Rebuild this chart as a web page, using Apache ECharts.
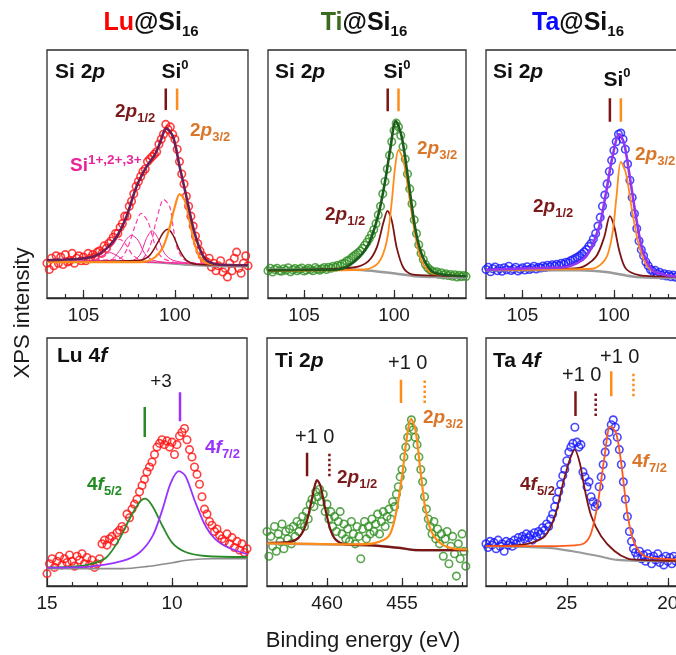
<!DOCTYPE html>
<html>
<head>
<meta charset="utf-8">
<script src="https://cdn.jsdelivr.net/npm/echarts@6/dist/echarts.min.js"></script>
<style>
html,body{margin:0;padding:0;background:#fff;}
#main{width:676px;height:655px;}
</style>
</head>
<body>
<div id="main"></div>
<script>
// ---------- data (binding energy in eV, intensity in arb. units 0-100 of panel height) ----------
// Si 2p, Lu@Si16 : measured points on a 0.125 eV grid from 107 eV
var luSiStart = 107, luSiStep = 0.125;
var luSiVals = [14,11.5,16,13,17,14,16.5,13.5,17.5,14.5,15,18,14,16,17,15,16.5,15,18,16,
  17.5,16.5,18.5,19,18,21,20,22,23,24.5,26,26,28.5,30,33,33,37,39,42,45,
  47,49,51,52,55,56,57,58,59,62,64,66,70,68,69,66,64,60,55,50,
  46,41,37,33,29,25,22,19,17,15,14.5,16,12.5,14,11,13,15,10.5,12,8.5,
  14,11,16,18.5,12,10,14,17,13];
var luSiEnv = [[107,15.2],[106,15.5],[105.03,15.9],[104.3,17.2],[103.75,19.9],[103.2,24.6],[102.66,32.7],[102.11,44.8],[101.56,52.9],[101.11,57.6],[100.83,62.3],[100.47,68.4],[100.1,65.0],[99.74,52.9],[99.37,40.8],[99.01,28.7],[98.64,19.9],[98.28,15.2],[97.73,13.6],[97,13.3],[96,13.2]];
var luSi32 = [[107,14.5],[104,14.5],[101.93,14.5],[101.2,15.9],[100.65,20.6],[100.28,28.7],[100.01,36.7],[99.74,41.9],[99.46,39.4],[99.19,30.7],[98.92,21.9],[98.64,16.6],[98.28,14.1],[97.5,13.4],[96,13.2]];
var luSi12 = [[107,14.5],[104,14.8],[101.93,15.2],[101.38,17.2],[100.92,22.6],[100.65,26.2],[100.38,27.7],[100.1,25.3],[99.74,19.2],[99.37,15.2],[98.82,13.6],[97.5,13.3],[96,13.2]];
var luSiBg = [[107,14.9],[102.84,14.7],[101.01,14.3],[99.19,13.3],[97.91,12.8],[96,12.7]];
var luSiOx1 = [[107,14.5],[104,14.6],[102.47,14.8],[101.93,17.2],[101.56,24.0],[101.25,27.1],[100.92,24.0],[100.56,17.9],[100.1,15.2],[99,14],[96,13.2]];
var luSiOx2 = [[107,14.5],[105,14.8],[103.57,15.2],[103.02,19.2],[102.66,23.6],[102.38,25.3],[102.02,23.3],[101.65,17.9],[101.2,15.2],[100,14.2],[96,13.2]];
var luSiOx3 = [[107,14.5],[105.5,14.8],[104.48,15.2],[103.93,17.2],[103.57,18.3],[103.2,17.2],[102.66,14.9],[101,14.3],[96,13.2]];
var luSiOxD1 = [[107,14.5],[104,14.8],[101.93,15.2],[101.38,20.6],[101.01,31.4],[100.61,39.7],[100.28,36.7],[100.1,28.7],[99.83,19.2],[99.37,14.9],[98,13.6],[96,13.2]];
var luSiOxD2 = [[107,14.5],[104.5,15.2],[103.02,15.9],[102.57,20.6],[102.2,28.7],[101.84,34.1],[101.47,30.7],[101.11,21.9],[100.74,16.6],[100.1,14.5],[98.5,13.6],[96,13.2]];
var luSiOxD3 = [[107,14.5],[105.5,14.8],[104.3,15.2],[103.75,17.9],[103.29,22.6],[103.02,23.6],[102.66,21.3],[102.29,17.2],[101.74,14.9],[100,14.2],[96,13.2]];
var luSiMarks = [[100.5,75.8,84.5],[99.88,75.8,84.5]];

// Si 2p, Ti@Si16
var tiSiStart = 107, tiSiStep = 0.125;
var tiSiVals = [11,12,10.5,11.5,12,11,10.8,11.8,11.2,12.2,10.6,11.4,11.9,11,11.6,12.1,10.9,11.3,12,11.5,11,12.3,11.6,11.2,
  11.8,12.3,11.5,12.4,12,12.8,12.4,13.2,13,13.8,14,14.9,15.2,16,16.8,17.5,18.2,19,20,21.3,22.5,24,25.6,27.5,30,33.5,
  37,42,47,52,57.5,63,67.5,70.5,69,65.5,61,56,50,44,38,31.5,26,21.5,18,15.5,13.5,12.2,11.4,10.8,10.3,10.6,9.6,10.2,
  9.3,9.8,9.1,9.5,8.8,9.4,8.5,9.2,8.6,9.1,8.7];
var tiSiEnv = [[107,11.1],[105,11.3],[103.08,11.5],[102.16,14.9],[101.42,21.6],[100.86,33.8],[100.49,47.3],[100.22,59.5],[99.9,71.4],[99.57,64.9],[99.2,47.3],[98.83,28.4],[98.46,17.6],[97.91,10.8],[97.35,9.5],[96,8.8]];
var tiSi32 = [[107,10.8],[104,11.1],[101.6,11.5],[100.86,14.2],[100.4,23.0],[100.12,39.2],[99.94,52.7],[99.75,59.7],[99.48,55.4],[99.2,43.2],[98.83,25.7],[98.46,14.9],[97.91,10.1],[97,9.2],[96,8.8]];
var tiSi12 = [[107,11.1],[104,11.6],[102.16,12.4],[101.42,14.9],[100.96,20.3],[100.59,30.4],[100.36,35.1],[100.12,31.1],[99.85,20.3],[99.48,12.2],[99.01,9.5],[97.5,9.0],[96,8.8]];
var tiSiBg = [[107,11.4],[102.16,11.4],[101.05,10.8],[99.94,9.9],[98.83,8.8],[97.35,8.4],[96,8.2]];
var tiSiMarks = [[100.35,75.3,84.5],[99.75,75.3,84.5]];

// Si 2p, Ta@Si16
var taSiStart = 107, taSiStep = 0.125;
var taSiVals = [11.5,12.4,10.6,11.8,12.5,11,11.9,10.8,12.2,11.4,12.8,11.1,11.7,12.4,10.9,11.6,12.2,11.3,12.6,11.5,12,12.8,11.7,12.4,
  12.1,12.9,12.3,13.2,12.6,13.4,12.9,13.6,13.1,14,13.6,14.4,14.2,15,15.4,15.9,16.4,17,17.8,18.6,19.5,20.8,22,23.8,26,29,
  32.5,37,41.5,46,51,55.5,59.5,63,66,66.5,64,60,54,47.5,40.5,34,28,23,19.5,17,14.5,13,11.5,10.8,11.2,9.8,10.4,9.2,
  9.8,8.9,9.5,8.6,9.3,8.4,9,8.2,8.8,8.3,8.6];
var taSiEnv = [[107,11.4],[104.5,12],[102.64,12.5],[101.54,16.6],[100.81,28.7],[100.44,42.1],[100.08,56.9],[99.71,66.1],[99.44,62.3],[99.16,50.2],[98.79,32.7],[98.43,19.2],[97.88,11.2],[97.15,9.2],[96.54,8.7],[96,8.6]];
var taSi32 = [[107,11.2],[104,11.5],[101.18,11.8],[100.44,15.9],[100.08,26.0],[99.86,40.8],[99.62,54.9],[99.34,50.2],[98.98,34.1],[98.61,20.6],[98.15,12.5],[97.51,9.8],[96.54,8.7],[96,8.6]];
var taSi12 = [[107,11.2],[104,11.6],[101.91,12.1],[100.99,16.6],[100.53,24.6],[100.22,33.0],[99.98,28.7],[99.71,19.2],[99.34,11.8],[98.61,9.2],[97.5,8.7],[96,8.5]];
var taSiBg = [[107,11.2],[101.91,11.2],[100.44,10.5],[98.98,8.7],[97.88,8.2],[96,8.1]];
var taSiMarks = [[100.22,71.1,80.5],[99.62,71.1,80.5]];

// Lu 4f
var luFStart = 15, luFStep = 0.1;
var luFVals = [5,9,11,7.5,10,12,8.5,11,9.5,12.5,10,8,12,10.5,13,9,11.5,8.5,10.5,7.5,
  9,11,17,18.5,16.5,19,20,18,21.5,22.5,24,23,29,27.5,31,33,35,38,40.5,43,
  46,48,50,53,56,57.5,59,57,58.5,56,58,53,57,60.5,62,63.5,59,55,52,48,
  45,41,36,31,29,26,24.5,22,23,20.5,19,18,21,17,19.5,15.5,18,14.5,17,13.5,15];
var luF52 = [[15,7.4],[13.97,7.8],[13.3,8.7],[12.64,11.4],[12.11,18.8],[11.71,26.8],[11.31,33.6],[11.07,35.2],[10.78,32.2],[10.38,24.2],[9.99,17.4],[9.46,13.7],[8.66,12.1],[7,11.7]];
var luF72 = [[15,7.4],[13.3,7.8],[11.98,10.1],[11.31,13.4],[10.78,20.1],[10.38,30.9],[10.05,41.6],[9.72,46.3],[9.46,44.3],[9.06,33.6],[8.66,24.2],[8.26,18.8],[7.73,15.4],[7,12.8]];
var luFBg = [[15,7.0],[11.98,7.0],[11.05,7.8],[9.99,9.4],[9.32,10.5],[8.4,11.0],[7,11.0]];
var luFMarks = [[11.09,60.1,72.2],[9.68,66.4,78.1]];

// Ti 2p
var tiPStart = 464, tiPStep = 0.125;
var tiPVals = [22,12,20,16,24,14,21,18,25,15,22,19,23,17,24,20,26,22,25,28,
  24,30,27,33,35,32,38,36,39,34,37,30,33,27,30,24,28,22,26,30,
  21,25,19,23,18,26,21,17,24,20,11,23,26,19,24,21,27,22,25,29,
  21,26,30,24,28,31,27,34,32,37,40,44,47,52,56,60,64,67,63,60,
  57,52,47,42,36,31,27,24,21,26,19,23,17,21,12,19,22,9,16,20,
  13,4,17,11,21,14,8];
var tiP12 = [[464,17.4],[462.56,17.7],[461.89,19.5],[461.44,24.2],[461.11,32.2],[460.82,40.3],[460.67,42.7],[460.44,40.3],[460.11,30.9],[459.78,22.8],[459.44,18.8],[458.78,16.8],[457,16.4],[455.22,15.4],[454.11,14.5],[450.67,14.5]];
var tiP32 = [[464,17.2],[461,17],[458.11,16.8],[456.78,17.4],[455.89,20.1],[455.44,28.2],[455,44.3],[454.67,60.4],[454.4,67.4],[454.11,63.1],[453.78,47.0],[453.44,30.9],[453,21.5],[452.33,16.8],[451.44,15.0],[450.67,14.8]];
var tiPBg = [[464,17.2],[460.33,16.8],[457,16.4],[455.22,15.4],[454.11,14.5],[453,14.4],[450.67,14.5]];
var tiPMarks = [[461.33,44.3,53.7],[459.84,44.3,53.7],[455.07,73.8,83.2],[453.49,73.8,83.2]];

// Ta 4f
var taFStart = 29, taFStep = 0.1;
var taFVals = [17,15.5,18,16.5,17.5,15,18.5,16,17,14,18,16.5,17.5,16,18.5,17,19.5,18,20,19,
  21,19.5,20.5,18.5,21.5,20,22,21,23.5,22.5,25,24,27,29,32,35,38,41,44.5,47,
  50.5,54,56,57.5,64,58,56,57,46,44,40,42,36,34,32,33,40,44,49,54,
  58,62,65,67,64,60,55,49,42,35,28,22,18,15,13.5,12,14,11,12.5,10,
  13,11.5,9,12,10.5,13,9.5,11,8.5,12,10,11.5,9,12,10,11,9.5,11,10,11.5,10];
var taF52 = [[29,16.1],[27.56,16.4],[26.74,17.4],[26.08,20.1],[25.59,28.2],[25.18,41.6],[24.85,51.0],[24.61,55.0],[24.36,49.7],[24.11,38.9],[23.79,28.2],[23.3,20.1],[22.64,14.1],[21.98,11.0],[21.33,10.5],[19.64,10.1],[19,10]];
var taF72 = [[29,16.1],[27,16.1],[25.92,16.1],[24.61,16.4],[24.11,17.4],[23.79,21.5],[23.46,33.6],[23.13,52.3],[22.85,64.4],[22.56,61.7],[22.31,49.7],[21.98,28.2],[21.66,17.4],[21.16,12.1],[20.3,11],[19.64,10.7],[19,10.6]];
var taFBg = [[29,16.1],[25.92,15.4],[24.77,14.1],[23.46,12.1],[22.48,10.5],[21.33,10.1],[19,9.9]];
var taFMarks = [[24.57,68.5,78.5],[23.57,68.5,78.5],[22.8,76.5,86.6],[21.7,76.5,86.6]];

// axis ticks and labels
var siTicks = [97,98,99,100,101,102,103,104,105,106], siLabels = [100,105];
var luFTicks = [8,9,10,11,12,13,14], luFLabels = [10,15];
var tiPTicks = [451,452,453,454,455,456,457,458,459,460,461,462,463], tiPLabels = [455,460];
var taFTicks = [20,21,22,23,24,25,26,27,28], taFLabels = [20,25];

// ---------- chart ----------
var F = '"Liberation Sans", Arial, Helvetica, sans-serif';
var DR = '#7d1414', OR = '#ff8c1a', GR = '#9a9a9a';

function pts(start, step, vals) {
  return vals.map(function (v, i) { return [Math.round((start - i * step) * 1000) / 1000, v]; });
}

var grids = [], xAxes = [], yAxes = [], series = [];

function addPanel(k, box, min, max, ticks, labels) {
  grids.push({left: box[0], top: box[1], width: box[2], height: box[3], show: true,
    borderColor: '#2b2b2b', borderWidth: 1.3, backgroundColor: 'transparent',
    containLabel: false, outerBoundsMode: 'none'});
  xAxes.push({gridIndex: k, type: 'value', position: 'bottom', min: min, max: max, inverse: true,
    axisLine: {show: true, onZero: false, lineStyle: {color: '#2b2b2b', width: 1.3}},
    axisTick: {show: true, inside: true, length: 4, customValues: ticks, lineStyle: {color: '#2b2b2b', width: 1.2}},
    axisLabel: {show: true, customValues: labels, margin: 8, fontSize: 19, fontFamily: F, color: '#1a1a1a'},
    splitLine: {show: false}});
  xAxes.push({gridIndex: k, type: 'value', position: 'bottom', min: min, max: max, inverse: true,
    axisLine: {show: false},
    axisTick: {show: true, inside: true, length: 8, customValues: labels, lineStyle: {color: '#2b2b2b', width: 1.2}},
    axisLabel: {show: false}, splitLine: {show: false}});
  yAxes.push({gridIndex: k, type: 'value', min: 0, max: 100, show: false});
}

function dots(k, data, color) {
  series.push({type: 'scatter', xAxisIndex: 2 * k, yAxisIndex: k, data: data, symbol: 'circle', symbolSize: 7.5,
    itemStyle: {color: 'rgba(0,0,0,0)', borderColor: color, borderWidth: 1.6}, z: 2, silent: true});
}
function curve(k, data, color, width, type) {
  series.push({type: 'line', xAxisIndex: 2 * k, yAxisIndex: k, data: data, smooth: 0.3,
    showSymbol: false, symbol: 'none', lineStyle: {color: color, width: width, type: type || 'solid'}, z: 3, silent: true});
}
function bars(k, marks, colors, types) {
  marks.forEach(function (m, i) {
    series.push({type: 'line', xAxisIndex: 2 * k, yAxisIndex: k, data: [[m[0], m[1]], [m[0], m[2]]],
      showSymbol: false, symbol: 'none', lineStyle: {color: colors[i], width: 2.5, type: types ? types[i] : 'solid'}, z: 4, silent: true});
  });
}

addPanel(0, [47, 50, 201, 248], 96, 107, siTicks, siLabels);
addPanel(1, [268, 50, 198, 248], 96, 107, siTicks, siLabels);
addPanel(2, [486, 50, 201, 248], 96, 107, siTicks, siLabels);
addPanel(3, [47, 338, 200, 248], 7, 15, luFTicks, luFLabels);
addPanel(4, [267, 338, 200, 248], 450.67, 464, tiPTicks, tiPLabels);
addPanel(5, [486, 338, 202, 248], 19, 29, taFTicks, taFLabels);

// Lu@Si16 Si 2p
dots(0, pts(luSiStart, luSiStep, luSiVals), '#ff1010');
curve(0, luSiBg, GR, 2);
curve(0, luSiOx1, '#f0239b', 1);
curve(0, luSiOx2, '#f0239b', 1);
curve(0, luSiOx3, '#f0239b', 1);
curve(0, luSiOxD1, '#ff3fa8', 1.2, [5, 3]);
curve(0, luSiOxD2, '#ff3fa8', 1.2, [5, 3]);
curve(0, luSiOxD3, '#ff3fa8', 1.2, [5, 3]);
curve(0, luSi12, DR, 1.5);
curve(0, luSi32, OR, 2.2);
curve(0, luSiEnv, '#6b1f57', 2.6);
bars(0, luSiMarks, [DR, OR]);

// Ti@Si16 Si 2p
dots(1, pts(tiSiStart, tiSiStep, tiSiVals), '#2f8f22');
curve(1, tiSiBg, GR, 2.5);
curve(1, tiSi12, DR, 1.8);
curve(1, tiSi32, OR, 1.8);
curve(1, tiSiEnv, '#1d5a1d', 2.6);
bars(1, tiSiMarks, [DR, OR]);

// Ta@Si16 Si 2p
dots(2, pts(taSiStart, taSiStep, taSiVals), '#1a1aff');
curve(2, taSiBg, GR, 2.5);
curve(2, taSi12, DR, 1.8);
curve(2, taSi32, OR, 1.8);
curve(2, taSiEnv, '#9436f0', 2.6);
bars(2, taSiMarks, [DR, OR]);

// Lu 4f
dots(3, pts(luFStart, luFStep, luFVals), '#ff1010');
curve(3, luFBg, '#8c8c8c', 1.6);
curve(3, luF52, '#2a8a2a', 1.8);
curve(3, luF72, '#9933ff', 1.8);
bars(3, luFMarks, ['#2a8a2a', '#9933ff']);

// Ti 2p
dots(4, pts(tiPStart, tiPStep, tiPVals), '#2f8f22');
curve(4, tiPBg, GR, 2.5);
curve(4, tiP12, DR, 2.2);
curve(4, tiP32, OR, 2.2);
bars(4, tiPMarks, [DR, DR, OR, OR], ['solid', 'dotted', 'solid', 'dotted']);

// Ta 4f
dots(5, pts(taFStart, taFStep, taFVals), '#1a1aff');
curve(5, taFBg, GR, 2.2);
curve(5, taF52, DR, 1.8);
curve(5, taF72, '#ff5a1a', 1.8);
bars(5, taFMarks, [DR, DR, OR, OR], ['solid', 'dotted', 'solid', 'dotted']);

// ---------- text ----------
function rich(color, size, sub, lh) {
  return {
    n: {fontSize: size, fontWeight: 'bold', fontFamily: F, fill: color, lineHeight: lh},
    i: {fontSize: size, fontWeight: 'bold', fontStyle: 'italic', fontFamily: F, fill: color, lineHeight: lh},
    sb: {fontSize: sub, fontWeight: 'bold', fontFamily: F, fill: color, verticalAlign: 'bottom'},
    sp: {fontSize: sub, fontWeight: 'bold', fontFamily: F, fill: color, verticalAlign: 'top'}
  };
}
function T(x, y, text, r, align) {
  return {type: 'text', x: x, y: y, silent: true, style: {text: text, rich: r, align: align || 'left', verticalAlign: 'middle'}};
}
function P(x, y, text, size, align, rot) {
  var el = {type: 'text', x: x, y: y, silent: true,
    style: {text: text, fontSize: size, fontFamily: F, fill: '#1a1a1a', align: align || 'left', verticalAlign: 'middle'}};
  if (rot) el.rotation = rot;
  return el;
}

var head = rich('#111', 25, 15, 32);
head.r = {fontSize: 25, fontWeight: 'bold', fontFamily: F, fill: '#ff0000', lineHeight: 32};
head.g = {fontSize: 25, fontWeight: 'bold', fontFamily: F, fill: '#3a6b1f', lineHeight: 32};
head.b = {fontSize: 25, fontWeight: 'bold', fontFamily: F, fill: '#0a0aff', lineHeight: 32};

var rk = rich('#111', 21, 13, 26);
var rDR = rich('#7b1a1a', 19, 13, 26);
var rOR = rich('#d9762a', 19, 13, 26);
var rPK = rich('#e8259a', 19, 13.5, 26);
var rGN = rich('#228b22', 19, 13, 26);
var rPU = rich('#9933ff', 19, 13, 26);

var graphics = [
  T(151, 23, '{r|Lu}{n|@Si}{sb|16}', head, 'center'),
  T(364, 23, '{g|Ti}{n|@Si}{sb|16}', head, 'center'),
  T(578, 23, '{b|Ta}{n|@Si}{sb|16}', head, 'center'),

  T(55, 72, '{n|Si 2}{i|p}', rk),
  T(175, 72, '{n|Si}{sp|0}', rk, 'center'),
  T(115, 112, '{n|2}{i|p}{sb|1/2}', rDR),
  T(190, 131, '{n|2}{i|p}{sb|3/2}', rOR),
  T(70, 166, '{n|Si}{sp|1+,2+,3+}', rPK),

  T(275, 72, '{n|Si 2}{i|p}', rk),
  T(397, 72, '{n|Si}{sp|0}', rk, 'center'),
  T(417, 149, '{n|2}{i|p}{sb|3/2}', rOR),
  T(325, 215, '{n|2}{i|p}{sb|1/2}', rDR),

  T(493, 72, '{n|Si 2}{i|p}', rk),
  T(617, 80, '{n|Si}{sp|0}', rk, 'center'),
  T(635, 155, '{n|2}{i|p}{sb|3/2}', rOR),
  T(533, 207, '{n|2}{i|p}{sb|1/2}', rDR),

  T(57, 356, '{n|Lu 4}{i|f}', rk),
  P(161, 382, '+3', 19, 'center'),
  T(87, 485, '{n|4}{i|f}{sb|5/2}', rGN),
  T(205, 448, '{n|4}{i|f}{sb|7/2}', rPU),

  T(275, 361, '{n|Ti 2}{i|p}', rk),
  P(295, 437, '+1 0', 20),
  P(388, 363, '+1 0', 20),
  T(337, 478, '{n|2}{i|p}{sb|1/2}', rDR),
  T(423, 418, '{n|2}{i|p}{sb|3/2}', rOR),

  T(493, 361, '{n|Ta 4}{i|f}', rk),
  P(562, 375, '+1 0', 20),
  P(600, 357, '+1 0', 20),
  T(520, 485, '{n|4}{i|f}{sb|5/2}', rDR),
  T(632, 462, '{n|4}{i|f}{sb|7/2}', rOR),

  P(23, 313, 'XPS intensity', 22, 'center', Math.PI / 2),
  P(363, 641, 'Binding energy (eV)', 22, 'center')
];

var myChart = echarts.init(document.getElementById('main'));
var option = {
  animation: false,
  backgroundColor: '#fff',
  grid: grids,
  xAxis: xAxes,
  yAxis: yAxes,
  series: series,
  graphic: graphics
};
myChart.setOption(option);
window.addEventListener('resize', function () {
  myChart.resize();
});
</script>
</body>
</html>
